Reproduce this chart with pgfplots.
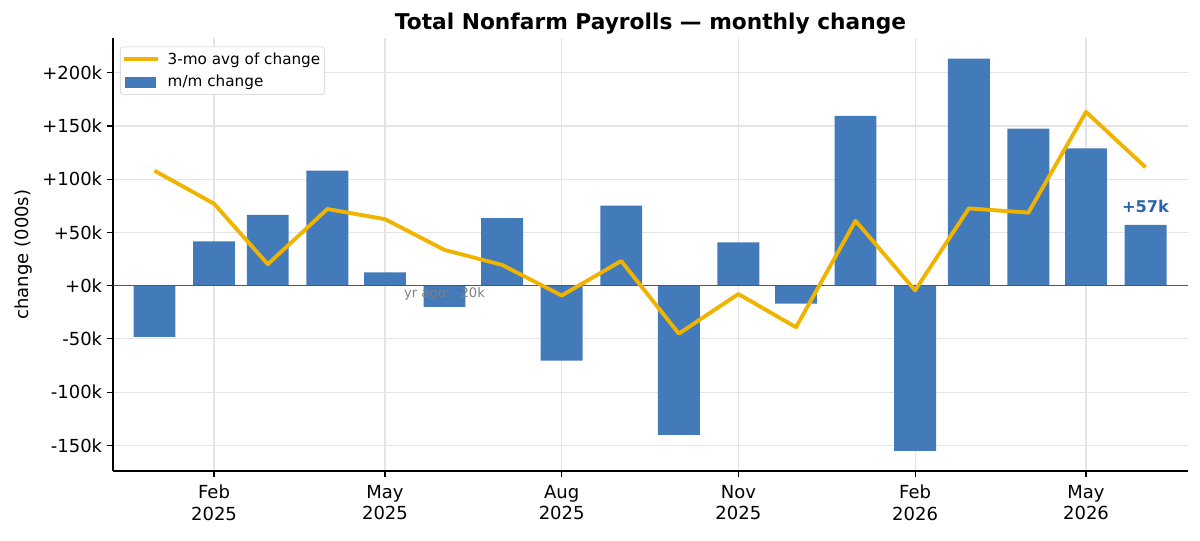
\documentclass[border=0pt]{standalone}
\usepackage{fontspec}
\setmainfont{DejaVu Sans}
\usepackage{pgfplots}
\usepackage{pgfplotstable}
\pgfplotsset{compat=1.18}
\definecolor{barblue}{RGB}{67,122,185}
\definecolor{gold}{RGB}{240,180,0}
\definecolor{lbl}{RGB}{42,98,176}
\definecolor{gridc}{RGB}{228,228,228}
\definecolor{zeroc}{RGB}{85,85,85}
\definecolor{legc}{RGB}{204,204,204}

% x = days since 2025-01-01 (first of each month), y = change in thousands
\pgfplotstableread{
x y
0 -48.1
31 41.6
59 66.4
90 108.0
120 12.5
151 -20.0
181 63.4
212 -70.3
243 75.3
273 -140.0
304 40.6
334 -16.9
365 159.4
396 -155.0
424 213.2
455 147.5
485 129.0
516 57.0
}\barsdata

\pgfplotstableread{
x y
0 108.0
31 77.0
59 20.2
90 72.0
120 62.5
151 33.6
181 19.5
212 -9.2
243 23.2
273 -45.0
304 -7.8
334 -39.0
365 61.0
396 -4.4
424 72.6
455 68.6
485 163.2
516 111.2
}\avgdata

\begin{document}
\begin{tikzpicture}
\useasboundingbox (0,0) rectangle (867.24pt,390.98pt);
\begin{axis}[
  at={(81.67pt,50.59pt)}, anchor=south west,
  scale only axis, width=776.90pt, height=312.93pt,
  xmin=-21.6, xmax=538.1, ymin=-174.0, ymax=232.6,
  axis lines=left, axis line style={black, line width=0.8pt, -},
  tick align=outside, major tick length=4.3pt,
  tick style={black, line width=0.8pt},
  grid=major, major grid style={gridc, line width=0.8pt},
  xtick={31,120,212,304,396,485},
  xticklabels={{Feb\\2025},{May\\2025},{Aug\\2025},{Nov\\2025},{Feb\\2026},{May\\2026}},
  xticklabel style={align=center, yshift=-2.5pt, font=\fontsize{13}{15.6}\selectfont},
  ytick={-150,-100,-50,0,50,100,150,200},
  yticklabels={-150k,-100k,-50k,+0k,+50k,+100k,+150k,+200k},
  yticklabel style={font=\fontsize{13}{15.6}\selectfont},
  ylabel={change (000s)},
  ylabel style={at={(axis description cs:-0.083,0.5)}, anchor=center, font=\fontsize{13}{15.6}\selectfont},
  title={Total Nonfarm Payrolls — monthly change},
  title style={at={(axis description cs:0.5,1.0185)}, anchor=base, yshift=-5.8pt, font=\fontsize{15.7}{18}\selectfont\bfseries},
  legend style={at={(axis description cs:0.0065,0.98)}, anchor=north west,
    draw=legc, rounded corners=2pt, fill=white, inner xsep=1pt,
    font=\fontsize{11}{13.2}\selectfont, cells={anchor=west},
    column sep=3.8pt, row sep=2.6pt},
]
\addplot[ybar, bar width=21.8, bar shift=0pt, fill=barblue, draw=none, forget plot] table[x=x,y=y] {\barsdata};
\addplot[zeroc, line width=0.9pt, forget plot] coordinates {(-21.6,0) (538.1,0)};
\addplot[gold, line width=2.8pt, line join=round,
  legend image code/.code={\draw[gold, line width=2.9pt, sharp corners] (0pt,0pt) -- (24.6pt,0pt);}] table[x=x,y=y] {\avgdata};
\addlegendentry{3-mo avg of change}
\addlegendimage{legend image code/.code={\fill[barblue, sharp corners] (1.2pt,-3.6pt) rectangle (23.2pt,3.6pt);}}
\addlegendentry{m/m change}
\node[anchor=base, text=gray, font=\fontsize{9.5}{11}\selectfont] at (axis cs:151,-11.5) {yr ago: -20k};
\node[anchor=base, text=lbl, font=\fontsize{11.7}{14}\selectfont\bfseries] at (axis cs:516,68.5) {+57k};
\end{axis}
\end{tikzpicture}
\end{document}
